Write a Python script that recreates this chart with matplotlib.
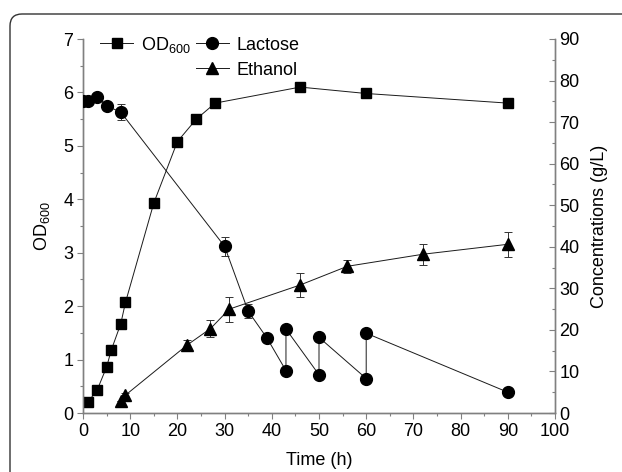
import matplotlib
matplotlib.use("Agg")
import matplotlib.pyplot as plt
from matplotlib.patches import FancyBboxPatch
from matplotlib.ticker import MultipleLocator

plt.rcParams['font.family'] = ['Liberation Sans', 'DejaVu Sans']
plt.rcParams['mathtext.default'] = 'regular'

# ---- data ----
od_time = [1, 3, 5, 6, 8, 9, 15, 20, 24, 28, 46, 60, 90]
od_vals = [0.2, 0.43, 0.86, 1.18, 1.67, 2.07, 3.93, 5.08, 5.5, 5.8, 6.1, 5.98, 5.8]

lac_time = [0, 1, 3, 5, 8, 30, 35, 39, 43, 43, 50, 50, 60, 60, 90]
lac_vals = [75.2, 75.0, 76.1, 73.9, 72.4, 40.1, 24.5, 18.0, 10.2, 20.2, 9.2, 18.2, 8.3, 19.2, 5.0]
lac_err = [0, 0, 0, 0, 2.0, 2.3, 1.7, 0, 0, 0, 0, 0, 0, 0, 0]

eth_time = [8, 9, 22, 27, 31, 46, 56, 72, 90]
eth_vals = [3.0, 4.3, 16.3, 20.3, 25.0, 30.8, 35.3, 38.2, 40.6]
eth_err = [0, 0.5, 1.2, 2.1, 3.0, 2.8, 1.5, 2.5, 3.0]

x_ticks = list(range(0, 101, 10))
od_ticks = list(range(0, 8))
conc_ticks = list(range(0, 91, 10))

W, H = 622, 472
fig = plt.figure(figsize=(W / 100, H / 100), dpi=100)

# outer rounded frame (cropped at right and bottom)
frame = FancyBboxPatch((0.10, -0.6), 7.0, (H - 14) / 100 + 0.6,
                       boxstyle="round,pad=0,rounding_size=0.12",
                       transform=fig.dpi_scale_trans, fill=False,
                       edgecolor='#333333', linewidth=1.0, clip_on=False)
fig.add_artist(frame)

left, right, top, bottom = 83, 555, 39, 413
ax = fig.add_axes([left / W, 1 - bottom / H, (right - left) / W, (bottom - top) / H])
ax2 = ax.twinx()

line_kw = dict(color='#1a1a1a', linewidth=0.7)
err_kw = dict(fmt='none', ecolor='#333333', elinewidth=0.7, capsize=3, capthick=0.7)

l1, = ax.plot(od_time, od_vals, marker='s', markersize=7, markerfacecolor='black',
              markeredgecolor='black', label='OD$_{600}$', zorder=3, **line_kw)

ax2.errorbar(lac_time, lac_vals, yerr=lac_err, zorder=2, **err_kw)
l2, = ax2.plot(lac_time, lac_vals, marker='o', markersize=8.5, markerfacecolor='black',
               markeredgecolor='black', label='Lactose', zorder=3, **line_kw)
ax2.errorbar(eth_time, eth_vals, yerr=eth_err, zorder=2, **err_kw)
l3, = ax2.plot(eth_time, eth_vals, marker='^', markersize=9, markerfacecolor='black',
               markeredgecolor='black', label='Ethanol', zorder=3, **line_kw)

ax.set_xlim(0, 100)
ax.set_ylim(0, 7)
ax2.set_ylim(0, 90)
ax.set_xticks(x_ticks)
ax.set_yticks(od_ticks)
ax2.set_yticks(conc_ticks)
ax.xaxis.set_minor_locator(MultipleLocator(5))
ax.yaxis.set_minor_locator(MultipleLocator(0.5))
ax2.yaxis.set_minor_locator(MultipleLocator(5))

spine_c = '#808080'
for a in (ax, ax2):
    a.spines['top'].set_visible(False)
    for s in a.spines.values():
        s.set_color(spine_c)
        s.set_linewidth(1.0)
ax.tick_params(axis='both', which='major', direction='out', length=4, width=0.8,
               color=spine_c, labelsize=13, pad=3)
ax.tick_params(axis='both', which='minor', direction='out', length=2.5, width=0.8, color=spine_c)
ax2.tick_params(axis='y', which='major', direction='in', length=4, width=0.8,
                color=spine_c, labelsize=13, pad=3)
ax2.tick_params(axis='y', which='minor', direction='in', length=2.5, width=0.8, color=spine_c)

ax.set_xlabel('Time (h)', fontsize=13, labelpad=9)
ax.set_ylabel('OD$_{600}$', fontsize=13, labelpad=8)
ax2.set_ylabel('Concentrations (g/L)', fontsize=13, labelpad=8)

blank, = ax.plot([], [], linestyle='none', marker='none', label=' ')
leg = ax.legend(handles=[l1, blank, l2, l3], labels=['OD$_{600}$', '', 'Lactose', 'Ethanol'],
                ncol=2, loc='upper left', bbox_to_anchor=(0.036, 1.012), frameon=False,
                fontsize=13, borderpad=0, borderaxespad=0, handlelength=1.85,
                handletextpad=0.4, columnspacing=0.3, labelspacing=0.45)
leg.set_zorder(5)

fig.savefig('out.png', dpi=100)
